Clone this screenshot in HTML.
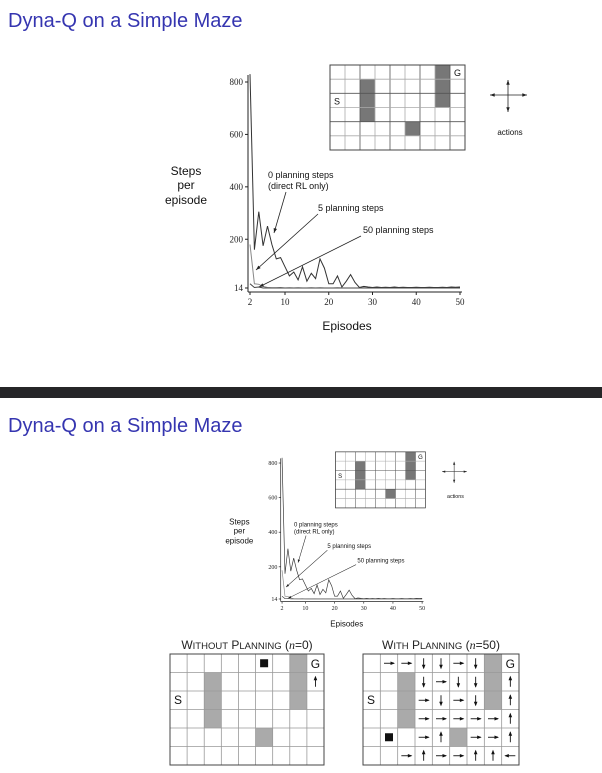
<!DOCTYPE html>
<html><head><meta charset="utf-8"><style>
html,body{margin:0;padding:0;background:#fff;}
svg{display:block;}
.t{font-family:"Liberation Sans",sans-serif;}
.s{font-family:"Liberation Serif",serif;}
</style></head><body>
<svg id="root" width="602" height="773" viewBox="0 0 602 773" xmlns="http://www.w3.org/2000/svg">
<rect width="602" height="773" fill="#fff"/>
<text x="8" y="27" class="t" font-size="20" fill="#3535b0">Dyna-Q on a Simple Maze</text>
<rect x="0" y="387" width="602" height="11" fill="#262628"/>
<text x="8" y="432" class="t" font-size="20" fill="#3535b0">Dyna-Q on a Simple Maze</text>
<g id="chartTop"></g>
<g id="chartBot" transform="translate(115.3,408.9) scale(0.667,0.66)"></g>
<g id="grids"></g>
</svg>
<script>
const episodes = [2,3,4,5,6,7,8,9,10,11,12,13,14,15,16,17,18,19,20,21,22,23,24,25,26,27,28,29,30,31,32,33,34,35,36,37,38,39,40,41,42,43,44,45,46,47,48,49,50];
const steps0 = [830,160,305,175,250,180,125,130,95,60,75,45,95,40,70,50,125,90,30,30,60,18,40,65,35,16,20,18,16,18,16,17,16,18,16,17,16,16,17,16,16,17,16,16,17,16,18,17,18];
const steps5 = [180,30,28,20,16,15,15,16,14,15,14,15,14,14,15,14,15,14,14,14,15,14,14,14,14,14,15,14,14,14,14,14,14,14,14,14,14,14,14,14,14,14,14,14,14,14,14,14,14];
const steps50 = [30,16,18,14,14,14,14,14,14,14,14,14,14,14,14,14,14,14,14,14,14,14,14,14,14,14,14,14,14,14,14,14,14,14,14,14,14,14,14,14,14,14,14,14,14,14,14,14,14];
const yTicks = [800,600,400,200,14];
const xTicks = [2,10,20,30,40,50];
const NS="http://www.w3.org/2000/svg";
function el(tag,attrs,parent,txt){const e=document.createElementNS(NS,tag);for(const k in attrs)e.setAttribute(k,attrs[k]);if(txt!==undefined)e.textContent=txt;parent.appendChild(e);return e;}
const X=v=>250+(v-2)*(460-250)/48;
const Y=v=>288-(v-14)*(288-82)/786;
function drawChart(g){
  let e;
  e=el('line',{x1:248,y1:75,x2:248,y2:292,stroke:'#222','stroke-width':1},g);
  
  
  e=el('line',{x1:248,y1:292,x2:462,y2:292,stroke:'#222','stroke-width':1},g);
  
  
  yTicks.forEach(v=>{
    el('line',{x1:245,y1:Y(v),x2:248,y2:Y(v),stroke:'#222'},g);
    e=el('text',{x:243,y:Y(v)+3,'text-anchor':'end','font-size':9,class:'s',fill:'#222'},g,String(v));
    
    
  });
  xTicks.forEach(v=>{
    el('line',{x1:X(v),y1:292,x2:X(v),y2:295,stroke:'#222'},g);
    e=el('text',{x:X(v),y:305,'text-anchor':'middle','font-size':9,class:'s',fill:'#222'},g,String(v));
    
    
  });
  const series=[[steps0,'#333','series-0-planning'],[steps5,'#888','series-5-planning'],[steps50,'#444','series-50-planning']];
  series.forEach(([d,c,n])=>{
    const pts=episodes.map((ep,i)=>X(ep).toFixed(1)+','+Y(d[i]).toFixed(1)).join(' ');
    const p=el('polyline',{points:pts,fill:'none',stroke:c,'stroke-width':1},g);
    
    
  });
  const lab=(x,y,t,n,fs,anchor)=>{const e=el('text',{x:x,y:y,'font-size':fs||9,class:'t',fill:'#111','text-anchor':anchor||'start'},g,t);};
  lab(268,178,'0 planning steps','label-0-planning');
  lab(268,189,'(direct RL only)','label-0-planning-sub');
  lab(318,211,'5 planning steps','label-5-planning');
  lab(363,233,'50 planning steps','label-50-planning');
  const arr=(x1,y1,x2,y2,n)=>{const a=el('line',{x1:x1,y1:y1,x2:x2,y2:y2,stroke:'#222','stroke-width':0.8},g);
    const ang=Math.atan2(y2-y1,x2-x1),L=5;el('polygon',{points:`${x2},${y2} ${x2-L*Math.cos(ang-0.35)},${y2-L*Math.sin(ang-0.35)} ${x2-L*Math.cos(ang+0.35)},${y2-L*Math.sin(ang+0.35)}`,fill:'#222'},g);};
  arr(286,192,274,233,'arrow-0-planning');
  arr(318,214,256,270,'arrow-5-planning');
  arr(361,236,259,287,'arrow-50-planning');
  lab(186,175,'Steps','y-axis-title',12,'middle');
  lab(186,189,'per','y-axis-title-2',12,'middle');
  lab(186,204,'episode','y-axis-title-3',12,'middle');
  lab(347,330,'Episodes','x-axis-title',12,'middle');
  // maze
  const mx=330,my=65,cw=15,ch=85/6;
  const dark=[[2,1],[2,2],[2,3],[7,0],[7,1],[7,2],[5,4]];
  dark.forEach(([c,r])=>el('rect',{x:mx+c*cw,y:my+r*ch,width:cw,height:ch,fill:'#777'},g));
  for(let c=0;c<=9;c++)el('line',{x1:mx+c*cw,y1:my,x2:mx+c*cw,y2:my+85,stroke:c%2==0?'#555':'#aaa','stroke-width':0.8},g);
  for(let r=0;r<=6;r++)el('line',{x1:mx,y1:my+r*ch,x2:mx+135,y2:my+r*ch,stroke:r%2==0?'#555':'#aaa','stroke-width':0.8},g);
  e=el('rect',{x:mx,y:my,width:135,height:85,fill:'none',stroke:'#444','stroke-width':1},g);
  
  
  lab(mx+4,my+2*ch+11,'S','maze-start',9);
  lab(mx+8*cw+4,my+11,'G','maze-goal',9);
  // actions cross
  arr(508,95,508,80,'action-up');arr(508,95,508,112,'action-down');arr(508,95,490,95,'action-left');arr(508,95,527,95,'action-right');
  lab(510,135,'actions','actions-label',8,'middle');
}
drawChart(document.getElementById('chartTop'));
drawChart(document.getElementById('chartBot'));
// policy grids
const G=document.getElementById('grids');
const grayCells=[[2,1],[2,2],[2,3],[7,0],[7,1],[7,2],[5,4]];
const policy=[
 ['','r','r','d','d','r','d','',''],
 ['','','','d','r','d','d','','u'],
 ['','','','r','d','r','d','','u'],
 ['','','','r','r','r','r','r','u'],
 ['','','','r','u','','r','r','u'],
 ['','','r','u','r','r','u','u','l']];
function grid(x0,y0,w,h,title,name,withPolicy){
  const g=el('g',{},G);
  
  
  const cw=w/9,ch=h/6;
  grayCells.forEach(([c,r])=>el('rect',{x:x0+c*cw,y:y0+r*ch,width:cw,height:ch,fill:'#aaa'},g));
  for(let c=0;c<=9;c++)el('line',{x1:x0+c*cw,y1:y0,x2:x0+c*cw,y2:y0+h,stroke:'#999','stroke-width':0.8},g);
  for(let r=0;r<=6;r++)el('line',{x1:x0,y1:y0+r*ch,x2:x0+w,y2:y0+r*ch,stroke:'#999','stroke-width':0.8},g);
  el('rect',{x:x0,y:y0,width:w,height:h,fill:'none',stroke:'#444','stroke-width':1},g);
  const t=el('text',{x:x0+w/2,y:y0-5,'text-anchor':'middle','font-size':12,class:'t',fill:'#222'},g);
  t.innerHTML=title;
  
  
  let e=el('text',{x:x0+4,y:y0+2*ch+13,'font-size':12,class:'t',fill:'#111'},g,'S');
  
  
  e=el('text',{x:x0+8*cw+cw/2,y:y0+14,'font-size':12,'text-anchor':'middle',class:'t',fill:'#111'},g,'G');
  
  
  const arrow=(c,r,d)=>{const cx=x0+c*cw+cw/2,cy=y0+r*ch+ch/2,L=5;let dx=0,dy=0;
    if(d=='r')dx=1;if(d=='l')dx=-1;if(d=='u')dy=-1;if(d=='d')dy=1;
    el('line',{x1:cx-dx*L,y1:cy-dy*L,x2:cx+dx*L,y2:cy+dy*L,stroke:'#111','stroke-width':0.9},g);
    const tx=cx+dx*L,ty=cy+dy*L,px=-dy,py=dx;
    el('polygon',{points:`${tx+dx*1},${ty+dy*1} ${tx-dx*3.5+px*1.8},${ty-dy*3.5+py*1.8} ${tx-dx*3.5-px*1.8},${ty-dy*3.5-py*1.8}`,fill:'#111'},g);};
  if(withPolicy){
    policy.forEach((row,r)=>row.forEach((d,c)=>{if(d)arrow(c,r,d);}));
    e=el('rect',{x:x0+1*cw+cw/2-4,y:y0+4*ch+ch/2-4,width:8,height:8,fill:'#111'},g);
  } else {
    arrow(8,1,'u');
    e=el('rect',{x:x0+5*cw+cw/2-4,y:y0+ch/2-4,width:8,height:8,fill:'#111'},g);
  }
  
  
}
grid(170,654,154,111,'W<tspan font-size="9.5">ITHOUT</tspan> P<tspan font-size="9.5">LANNING</tspan> (<tspan font-style="italic" class="s">n</tspan>=0)','grid-without-planning',false);
grid(363,654,156,111,'W<tspan font-size="9.5">ITH</tspan> P<tspan font-size="9.5">LANNING</tspan> (<tspan font-style="italic" class="s">n</tspan>=50)','grid-with-planning',true);
</script>
</body></html>
